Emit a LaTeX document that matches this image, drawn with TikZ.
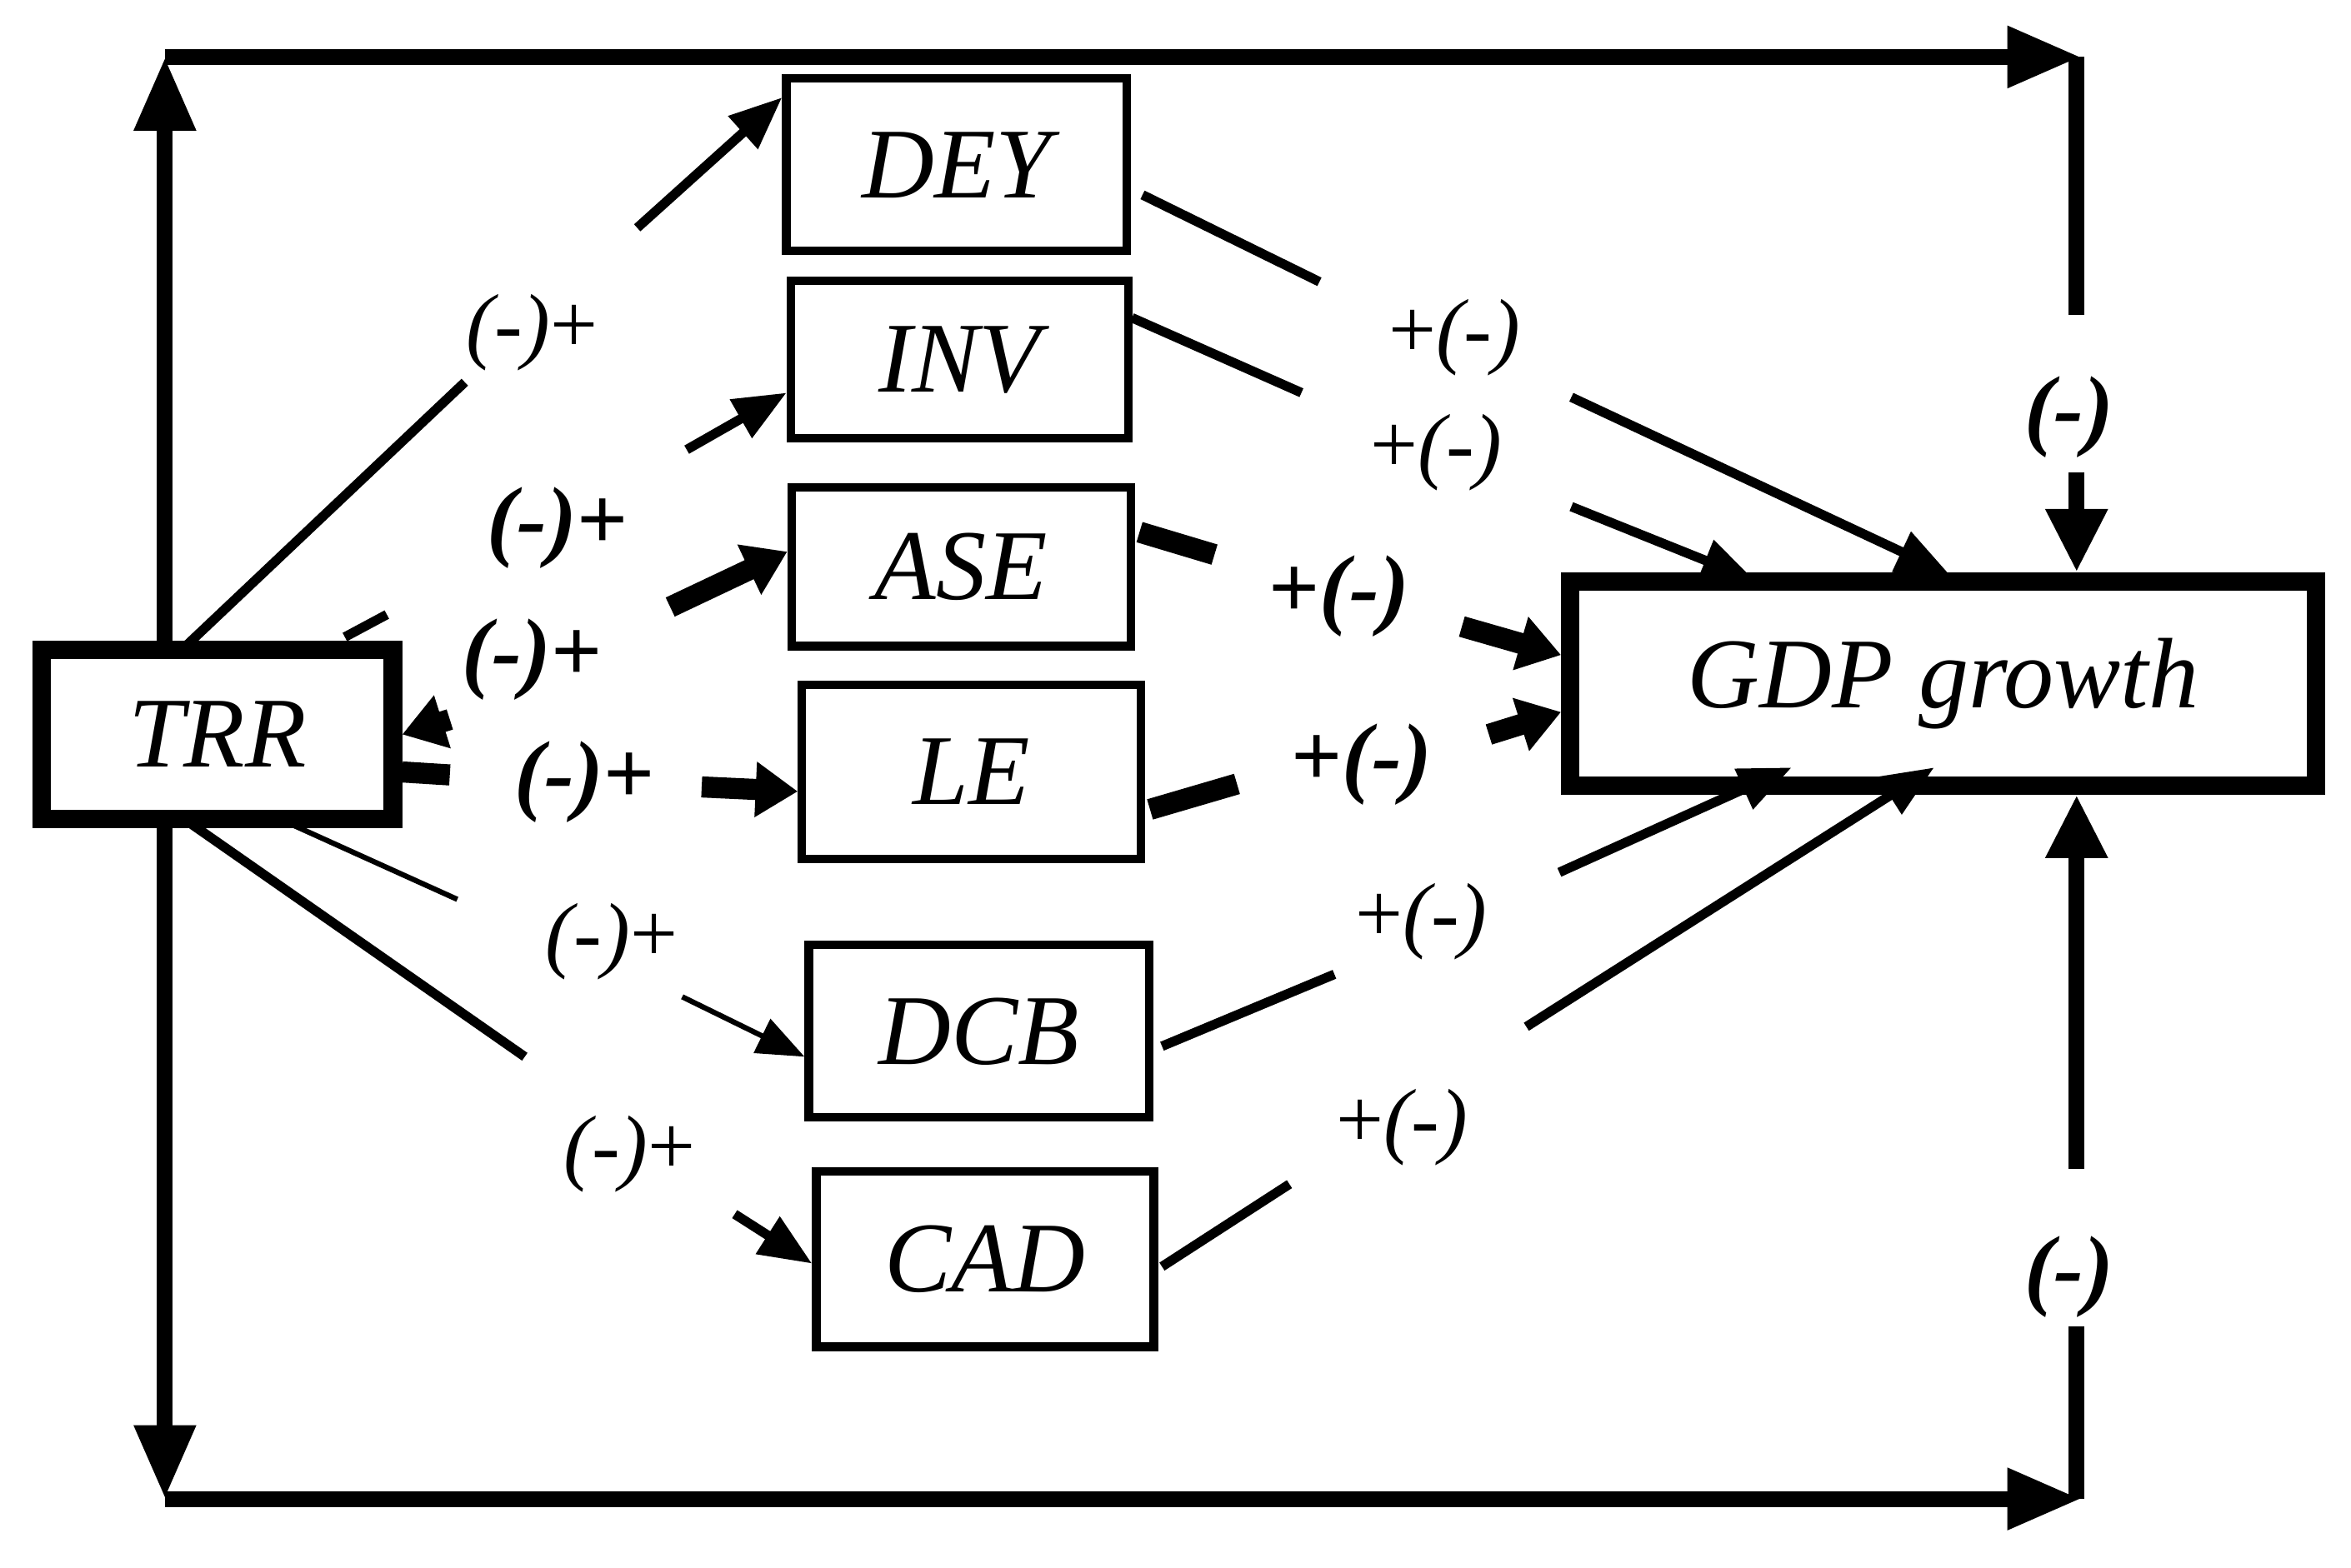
\documentclass[tikz,border=0pt]{standalone}
\usepackage{fontspec}
\setmainfont{Liberation Serif}
\usetikzlibrary{arrows.meta}
\begin{document}
\begin{tikzpicture}[x=0.01cm,y=-0.01cm,
 box/.style={draw,fill=white,line width=1.6pt,font=\itshape\fontsize{19}{19}\selectfont},
 bbox/.style={draw,fill=white,line width=3.5pt,font=\itshape\fontsize{19}{19}\selectfont},
 th/.style={line width=1pt,-{Triangle[length=9pt,width=7pt]}},
 md/.style={line width=1.8pt,-{Triangle[length=10pt,width=8pt]}},
 tk/.style={line width=4pt,-{Triangle[length=8pt,width=10pt]}},
 lt/.style={-{Triangle[length=14pt,width=11pt]}},
 lab/.style={font=\fontsize{16}{16}\selectfont},
 blab/.style={font=\bfseries\fontsize{17}{17}\selectfont},
 loop/.style={line width=3pt}]
\useasboundingbox (0,0) rectangle (1568,1046);
% outer loop (behind boxes)
\coordinate (tl) at (110,38); \coordinate (bl) at (110,1000);
\coordinate (tr) at (1388,38); \coordinate (br) at (1388,1000);
\coordinate (tm) at (110,490);
\draw[loop,lt] (tm) -- (tl);
\draw[loop,lt] (tm) -- (bl);
\draw[loop,lt] (tl) -- (tr);
\draw[loop,lt] (bl) -- (br);
\node[bbox,minimum width=2.34cm,minimum height=1.13cm] (TRR) at (145,490) {TRR};
\node[box,minimum width=2.27cm,minimum height=1.15cm] (DEY) at (638,110) {DEY};
\node[box,minimum width=2.25cm,minimum height=1.05cm] (INV) at (640,240) {INV};
\node[box,minimum width=2.26cm,minimum height=1.06cm] (ASE) at (641,378) {ASE};
\node[box,minimum width=2.26cm,minimum height=1.16cm] (LE) at (648,515) {LE};
\node[box,minimum width=2.27cm,minimum height=1.15cm] (DCB) at (653,688) {DCB};
\node[box,minimum width=2.25cm,minimum height=1.17cm] (CAD) at (657,840) {CAD};
\node[bbox,minimum width=4.97cm,minimum height=1.36cm] (GDP) at (1296,456) {GDP growth};
\coordinate (t1) at (1385,38); \coordinate (t2) at (1385,210); \coordinate (t3) at (1385,315);
\draw[loop] (t1) -- (t2);
\draw[loop,-{Triangle[length=12pt,width=11pt]}] (t3) -- (GDP.north -| t3);
\node[blab] (m1) at (1380,278) {\itshape(-)};
\coordinate (b1) at (1385,1000); \coordinate (b2) at (1385,885); \coordinate (b3) at (1385,780);
\draw[loop] (b1) -- (b2);
\draw[loop,-{Triangle[length=12pt,width=11pt]}] (b3) -- (GDP.south -| b3);
\node[blab] (m2) at (1380,852) {\itshape(-)};
% TRR -> boxes
\coordinate (a1) at (125,430); \coordinate (a2) at (310,255); \coordinate (a3) at (425,152);
\draw[line width=1.8pt] (a1)--(a2); \draw[md] (a3)--(DEY.west|-0,65);
\node[lab] (l1) at (355,222) {\itshape(-)\upshape+};
\coordinate (b21) at (230,425); \coordinate (b22) at (258,410); \coordinate (b23) at (458,300);
\draw[line width=1.8pt] (b21)--(b22); \draw[md] (b23)--(INV.west|-0,262);
\node[blab] (l2) at (372,352) {\itshape(-)\upshape+};
\coordinate (c1) at (300,480); \coordinate (c2) at (447,405);
\draw[tk] (c1)--(TRR.east|-0,490); \draw[tk] (c2)--(ASE.west|-0,368);
\node[blab] (l3) at (355,440) {\itshape(-)\upshape+};
\coordinate (d0) at (300,517); \coordinate (d1) at (468,525);
\draw[line width=4pt] (TRR.east|-0,515)--(d0); \draw[tk] (d1)--(LE.west|-0,528);
\node[blab] (l4) at (390,522) {\itshape(-)\upshape+};
\coordinate (e0) at (190,548); \coordinate (e1) at (305,600); \coordinate (e2) at (455,665);
\draw[line width=1pt] (e0)--(e1); \draw[th] (e2)--(DCB.west|-0,705);
\node[lab] (l5) at (408,628) {\itshape(-)\upshape+};
\coordinate (f0) at (128,550); \coordinate (f1) at (350,705); \coordinate (f2) at (490,810);
\draw[line width=1.8pt] (f0)--(f1); \draw[md] (f2)--(CAD.west|-0,843);
\node[lab] (l6) at (420,770) {\itshape(-)\upshape+};
% boxes -> GDP
\coordinate (g1) at (762,130); \coordinate (g2) at (880,188); \coordinate (g3) at (1048,265); \coordinate (g4) at (1300,383);
\draw[line width=1.8pt] (g1)--(g2); \draw[md] (g3)--(g4);
\node[lab] (r1) at (970,225) {+\itshape(-)};
\coordinate (h1) at (755,212); \coordinate (h2) at (868,262); \coordinate (h3) at (1048,338); \coordinate (h4) at (1170,387);
\draw[line width=1.8pt] (h1)--(h2); \draw[md] (h3)--(h4);
\node[lab] (r2) at (958,302) {+\itshape(-)};
\coordinate (i1) at (760,355); \coordinate (i2) at (810,370); \coordinate (i3) at (975,418);
\draw[line width=4pt] (i1)--(i2); \draw[tk] (i3)--(GDP.west|-0,437);
\node[blab] (r3) at (893,398) {+\itshape(-)};
\coordinate (j1) at (767,540); \coordinate (j2) at (825,523); \coordinate (j3) at (993,490);
\draw[line width=4pt] (j1)--(j2); \draw[tk] (j3)--(GDP.west|-0,475);
\node[blab] (r4) at (908,510) {+\itshape(-)};
\coordinate (k1) at (775,698); \coordinate (k2) at (890,650); \coordinate (k3) at (1040,582); \coordinate (k4) at (1195,512);
\draw[line width=1.8pt] (k1)--(k2); \draw[md] (k3)--(k4);
\node[lab] (r5) at (948,615) {+\itshape(-)};
\coordinate (n1) at (775,845); \coordinate (n2) at (860,790); \coordinate (n3) at (1018,685); \coordinate (n4) at (1290,512);
\draw[line width=1.8pt] (n1)--(n2); \draw[md] (n3)--(n4);
\node[lab] (r6) at (935,752) {+\itshape(-)};
\end{tikzpicture}
\end{document}
